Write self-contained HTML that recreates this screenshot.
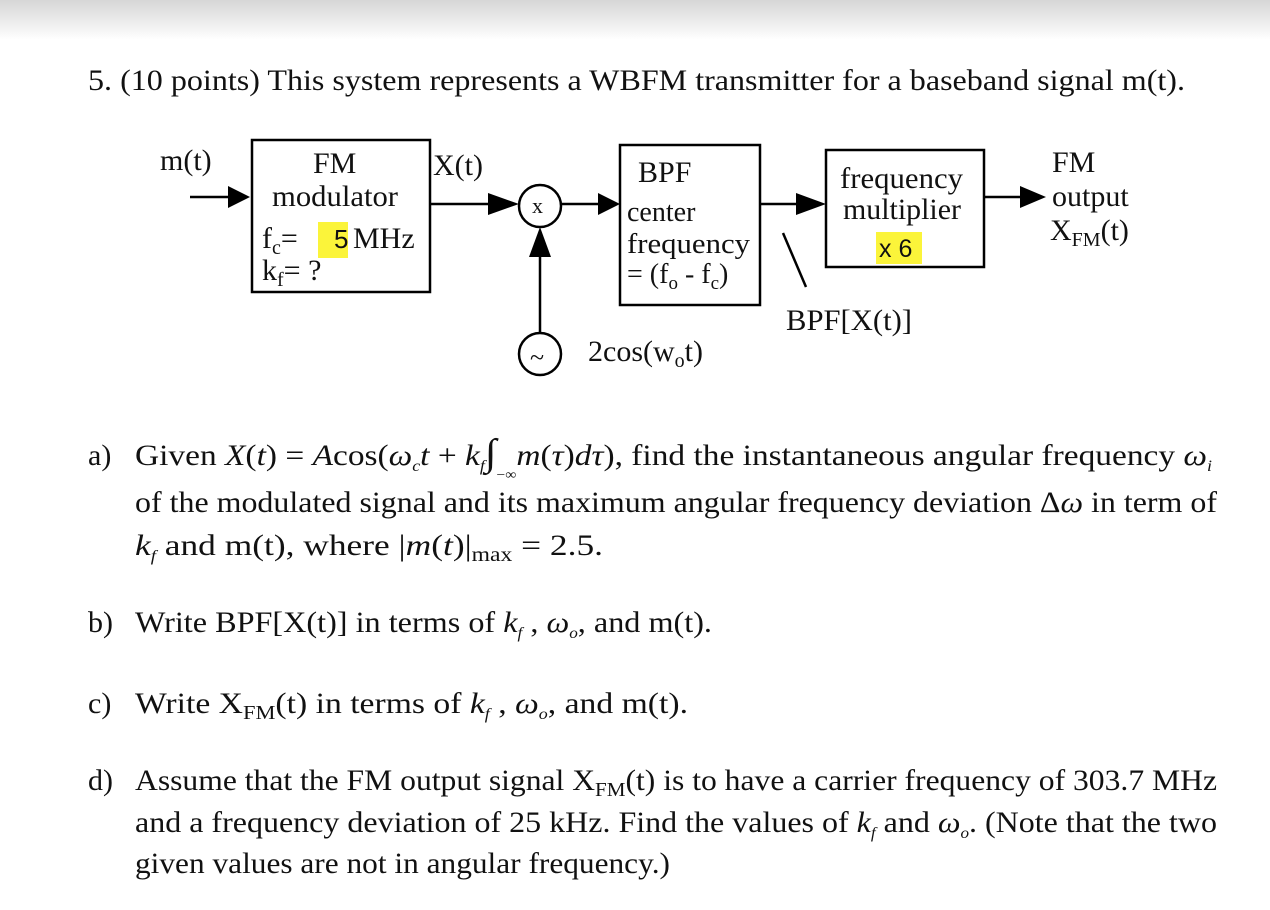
<!DOCTYPE html>
<html><head><meta charset="utf-8"><style>
html,body{margin:0;padding:0;background:#fff}
svg{display:block}
text{font-family:"Liberation Serif",serif;fill:#111}
.sf{font-family:"Liberation Sans",sans-serif}
</style></head><body>
<svg width="1270" height="910" viewBox="0 0 1270 910">
<defs>
<linearGradient id="g" x1="0" y1="0" x2="0" y2="1"><stop offset="0" stop-color="#d6d6d6"/><stop offset="1" stop-color="#fff"/></linearGradient>
</defs>
<rect width="1270" height="40" fill="url(#g)"/>
<text x="88" y="90" font-size="30" textLength="1097" lengthAdjust="spacingAndGlyphs">5. (10 points) This system represents a WBFM transmitter for a baseband signal m(t).</text>

<g stroke="#000" stroke-width="2.5" fill="none">
<rect x="252" y="140" width="178" height="152"/>
<rect x="620" y="145" width="140" height="160"/>
<rect x="826" y="150" width="158" height="117"/>
<circle cx="540" cy="206" r="21"/>
<circle cx="540" cy="354" r="21"/>
<line x1="190" y1="197" x2="230" y2="197"/>
<line x1="430" y1="204" x2="490" y2="204"/>
<line x1="561" y1="204" x2="600" y2="204"/>
<line x1="540" y1="333" x2="540" y2="250"/>
<line x1="760" y1="204" x2="800" y2="204"/>
<line x1="984" y1="197" x2="1025" y2="197"/>
<line x1="783" y1="233" x2="806" y2="287"/>
</g>
<g fill="#000">
<polygon points="228,186 250,197 228,208"/>
<polygon points="488,193 519,204 488,215"/>
<polygon points="598,193 620,204 598,215"/>
<polygon points="529,257 540,227 551,257"/>
<polygon points="796,193 826,204 796,215"/>
<polygon points="1020,186 1046,197 1020,208"/>
</g>
<rect x="318" y="222" width="30" height="36" fill="#fbf43a"/>
<rect x="876" y="232" width="46" height="32" fill="#fbf43a"/>

<text x="160" y="170" font-size="30">m(t)</text>
<text x="313" y="173" font-size="30">FM</text>
<text x="272" y="206" font-size="30" textLength="126" lengthAdjust="spacingAndGlyphs">modulator</text>
<text x="262" y="248" font-size="30">f<tspan font-size="20" dy="6">c</tspan><tspan dy="-6">=</tspan></text>
<text x="334" y="248" font-size="26" class="sf">5</text>
<text x="353" y="248" font-size="30">MHz</text>
<text x="262" y="280" font-size="30">k<tspan font-size="20" dy="6">f</tspan><tspan dy="-6">= ?</tspan></text>
<text x="433" y="175" font-size="30">X(t)</text>
<text x="532" y="213" font-size="22">x</text>
<text x="530" y="366" font-size="26">~</text>
<text x="588" y="361" font-size="30">2cos(w<tspan font-size="20" dy="6">o</tspan><tspan dy="-6">t)</tspan></text>
<text x="638" y="182" font-size="30">BPF</text>
<text x="627" y="221" font-size="28">center</text>
<text x="627" y="253" font-size="28" textLength="123" lengthAdjust="spacingAndGlyphs">frequency</text>
<text x="627" y="283" font-size="28">= (f<tspan font-size="19" dy="6">o</tspan><tspan dy="-6"> - f</tspan><tspan font-size="19" dy="6">c</tspan><tspan dy="-6">)</tspan></text>
<text x="840" y="188" font-size="30" textLength="123" lengthAdjust="spacingAndGlyphs">frequency</text>
<text x="843" y="219" font-size="30" textLength="118" lengthAdjust="spacingAndGlyphs">multiplier</text>
<text x="879" y="257" font-size="25" class="sf">x 6</text>
<text x="786" y="330" font-size="30" textLength="126" lengthAdjust="spacingAndGlyphs">BPF[X(t)]</text>
<text x="1052" y="172" font-size="30">FM</text>
<text x="1052" y="206" font-size="30">output</text>
<text x="1050" y="240" font-size="30">X<tspan font-size="20" dy="6">FM</tspan><tspan dy="-6">(t)</tspan></text>

<text x="88" y="465" font-size="30">a)</text>
<text x="135" y="465" font-size="30" textLength="1077" lengthAdjust="spacingAndGlyphs">Given <tspan font-style="italic">X</tspan>(<tspan font-style="italic">t</tspan>) = <tspan font-style="italic">A</tspan>cos(<tspan font-style="italic">ω</tspan><tspan font-size="16" font-style="italic" dy="6">c</tspan><tspan dy="-6" font-style="italic">t</tspan> + <tspan font-style="italic">k</tspan><tspan font-size="16" font-style="italic" dy="6">f</tspan><tspan dy="-6" font-size="38">∫</tspan><tspan font-size="14" dy="14">−∞</tspan><tspan dy="-14" font-style="italic">m</tspan>(<tspan font-style="italic">τ</tspan>)<tspan font-style="italic">dτ</tspan>), find the instantaneous angular frequency <tspan font-style="italic">ω</tspan><tspan font-size="16" font-style="italic" dy="6">i</tspan></text>
<text x="135" y="512" font-size="30" textLength="1082" lengthAdjust="spacingAndGlyphs">of the modulated signal and its maximum angular frequency deviation Δ<tspan font-style="italic">ω</tspan> in term of</text>
<text x="135" y="555" font-size="30" textLength="468" lengthAdjust="spacingAndGlyphs"><tspan font-style="italic">k</tspan><tspan font-size="16" font-style="italic" dy="6">f</tspan><tspan dy="-6"> and m(t), where |</tspan><tspan font-style="italic">m</tspan>(<tspan font-style="italic">t</tspan>)|<tspan font-size="20" dy="6">max</tspan><tspan dy="-6"> = 2.5.</tspan></text>

<text x="88" y="632" font-size="30">b)</text>
<text x="135" y="632" font-size="30" textLength="577" lengthAdjust="spacingAndGlyphs">Write BPF[X(t)] in terms of <tspan font-style="italic">k</tspan><tspan font-size="16" font-style="italic" dy="6">f</tspan><tspan dy="-6"> , </tspan><tspan font-style="italic">ω</tspan><tspan font-size="16" font-style="italic" dy="6">o</tspan><tspan dy="-6">, and m(t).</tspan></text>

<text x="88" y="713" font-size="30">c)</text>
<text x="135" y="713" font-size="30" textLength="553" lengthAdjust="spacingAndGlyphs">Write X<tspan font-size="20" dy="6">FM</tspan><tspan dy="-6">(t) in terms of </tspan><tspan font-style="italic">k</tspan><tspan font-size="16" font-style="italic" dy="6">f</tspan><tspan dy="-6"> , </tspan><tspan font-style="italic">ω</tspan><tspan font-size="16" font-style="italic" dy="6">o</tspan><tspan dy="-6">, and m(t).</tspan></text>

<text x="88" y="790" font-size="30">d)</text>
<text x="135" y="790" font-size="30" textLength="1082" lengthAdjust="spacingAndGlyphs">Assume that the FM output signal X<tspan font-size="20" dy="6">FM</tspan><tspan dy="-6">(t) is to have a carrier frequency of 303.7 MHz</tspan></text>
<text x="135" y="832" font-size="30" textLength="1082" lengthAdjust="spacingAndGlyphs">and a frequency deviation of 25 kHz. Find the values of <tspan font-style="italic">k</tspan><tspan font-size="16" font-style="italic" dy="6">f</tspan><tspan dy="-6"> and </tspan><tspan font-style="italic">ω</tspan><tspan font-size="16" font-style="italic" dy="6">o</tspan><tspan dy="-6">. (Note that the two</tspan></text>
<text x="135" y="873" font-size="30" textLength="535" lengthAdjust="spacingAndGlyphs">given values are not in angular frequency.)</text>
</svg>
</body></html>
